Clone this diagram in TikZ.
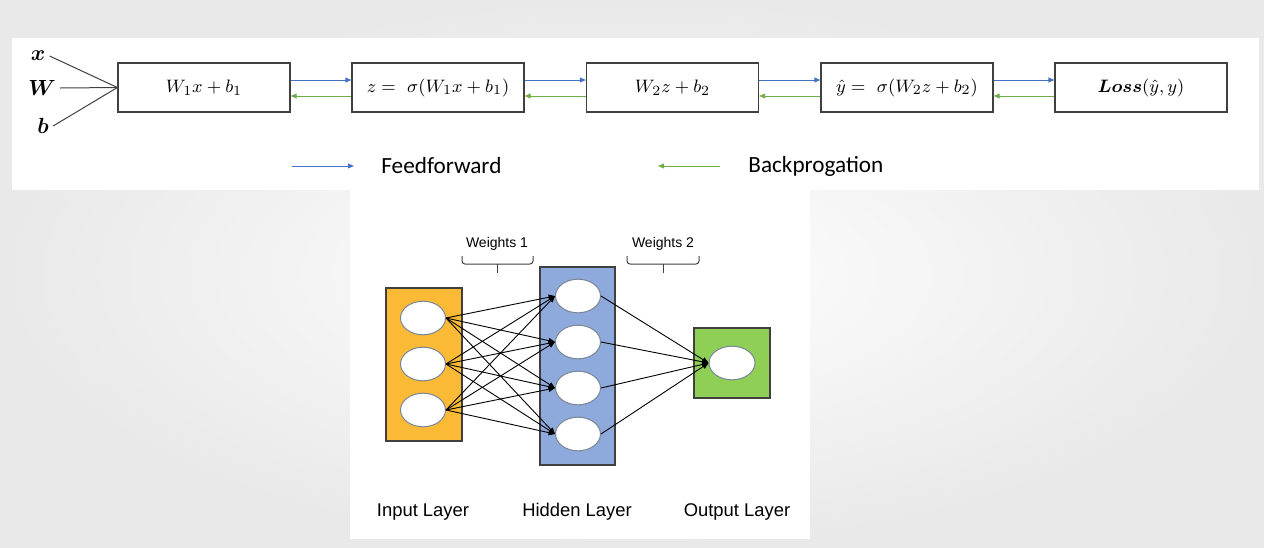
\documentclass[tikz,border=0pt]{standalone}
\usepackage[no-math]{fontspec}
\usepackage{amsmath}
\newfontfamily\helv{Liberation Sans}
\newfontfamily\calib{Carlito}
\usetikzlibrary{arrows.meta}
\definecolor{ffblue}{HTML}{4472C4}
\definecolor{bpgreen}{HTML}{70AD47}
\definecolor{inorange}{HTML}{FBBA36}
\definecolor{hidblue}{HTML}{8EA9DB}
\definecolor{outgreen}{HTML}{8FCF55}
\definecolor{bordergray}{HTML}{404040}
\definecolor{ellgray}{HTML}{7A8696}
\definecolor{bgedge}{HTML}{E9E9E9}
\tikzset{
  box/.style={draw=bordergray, line width=0.6pt, fill=white, minimum width=86pt, minimum height=24.5pt, inner sep=0pt, font=\fontsize{9.5}{11}\selectfont},
  ffarrow/.style={draw=ffblue, line width=0.5pt, -{Triangle[length=3pt,width=2.4pt]}},
  bparrow/.style={draw=bpgreen, line width=0.5pt, -{Triangle[length=3pt,width=2.4pt]}},
  inlabel/.style={inner sep=2pt, font=\fontsize{11}{13}\selectfont},
  inline/.style={draw=bordergray, line width=0.5pt},
  legendtext/.style={anchor=west, inner sep=0pt, font=\calib\fontsize{11.6}{14}\selectfont},
  layerrect/.style={draw=bordergray, line width=0.6pt},
  neuron/.style={ellipse, draw=ellgray, line width=0.5pt, fill=white, minimum width=22.5pt, minimum height=16.8pt, inner sep=0pt},
  netarrow/.style={draw=black, line width=0.45pt, -{Triangle[length=3.2pt,width=2.6pt]}},
  nettext/.style={font=\helv\fontsize{9.2}{11}\selectfont, inner sep=0pt},
  wtext/.style={font=\helv\fontsize{7}{9}\selectfont, inner sep=0pt},
  bracket/.style={draw=bordergray, line width=0.5pt, rounded corners=1.5pt}
}
\usetikzlibrary{shapes.geometric}
\begin{document}
\begin{tikzpicture}[x=0.5pt, y=-0.5pt]
\useasboundingbox (0,0) rectangle (1264,547);
% background
\shade[inner color=white, outer color=bgedge] (0,0) rectangle (1264,547);
\fill[white] (12,38) rectangle (1259,190);
\fill[white] (350,190) rectangle (810,539);

% top row
\node[box] (b1) at (204,87.5) {$W_1x+b_1$};
\node[box] (b2) at (438,87.5) {$z=\ \sigma(W_1x+b_1)$};
\node[box] (b3) at (672.5,87.5) {$W_2z+b_2$};
\node[box] (b4) at (907,87.5) {$\hat{y}=\ \sigma(W_2z+b_2)$};
\node[box] (b5) at (1141,87.5) {$\boldsymbol{Loss}(\hat{y},y)$};

\foreach \a/\b in {b1/b2,b2/b3,b3/b4,b4/b5}{
  \draw[ffarrow] ([yshift=3.75pt]\a.east) -- ([yshift=3.75pt]\b.west);
  \draw[bparrow] ([yshift=-4.25pt]\b.west) -- ([yshift=-4.25pt]\a.east);
}

% inputs
\node[inlabel] (xl) at (38,56) {$\boldsymbol{x}$};
\node[inlabel] (wl) at (42,88) {$\boldsymbol{W}$};
\node[inlabel] (bl) at (43,126) {$\boldsymbol{b}$};
\draw[inline] (xl.east) -- (b1.west);
\draw[inline] (wl.east) -- (b1.west);
\draw[inline] (bl.east) -- (b1.west);

% legend
\coordinate (ffs) at (292,166);
\coordinate (ffe) at (354,166);
\draw[ffarrow] (ffs) -- (ffe);
\node[legendtext] (fft) at (381,166) {Feedforward};
\coordinate (bps) at (720,166);
\coordinate (bpe) at (658,166);
\draw[bparrow] (bps) -- (bpe);
\node[legendtext] (bpt) at (748,166) {Backprogation};

% network layers
\node[layerrect, fill=inorange, minimum width=38pt, minimum height=76.5pt] (inl) at (424,364.5) {};
\node[layerrect, fill=hidblue, minimum width=37.5pt, minimum height=99pt] (hidl) at (577.5,366) {};
\node[layerrect, fill=outgreen, minimum width=38pt, minimum height=35pt] (outl) at (732,363) {};

\node[neuron] (i1) at (423,318) {};
\node[neuron] (i2) at (423,364) {};
\node[neuron] (i3) at (423,410) {};
\node[neuron] (h1) at (578,296) {};
\node[neuron] (h2) at (578,342) {};
\node[neuron] (h3) at (578,388) {};
\node[neuron] (h4) at (578,434) {};
\node[neuron, minimum width=23pt] (o1) at (732,363) {};

\foreach \i in {i1,i2,i3}{
  \foreach \h in {h1,h2,h3,h4}{
    \draw[netarrow] (\i.east) -- (\h.west);
  }
}
\foreach \h in {h1,h2,h3,h4}{
  \draw[netarrow] (\h.east) -- (o1.west);
}

% weights labels and brackets
\node[wtext] (w1) at (497,244) {Weights 1};
\node[wtext] (w2) at (663,244) {Weights 2};
\draw[bracket] (462,256) -- (462,264) -- (533,264) -- (533,256);
\draw[bordergray, line width=0.5pt] (497,264) -- (497,273);
\draw[bracket] (627,256) -- (627,264) -- (699,264) -- (699,256);
\draw[bordergray, line width=0.5pt] (663,264) -- (663,273);

% layer labels
\node[nettext] (il) at (423,512) {Input Layer};
\node[nettext] (hl) at (577,512) {Hidden Layer};
\node[nettext] (ol) at (737,512) {Output Layer};
\end{tikzpicture}
\end{document}
